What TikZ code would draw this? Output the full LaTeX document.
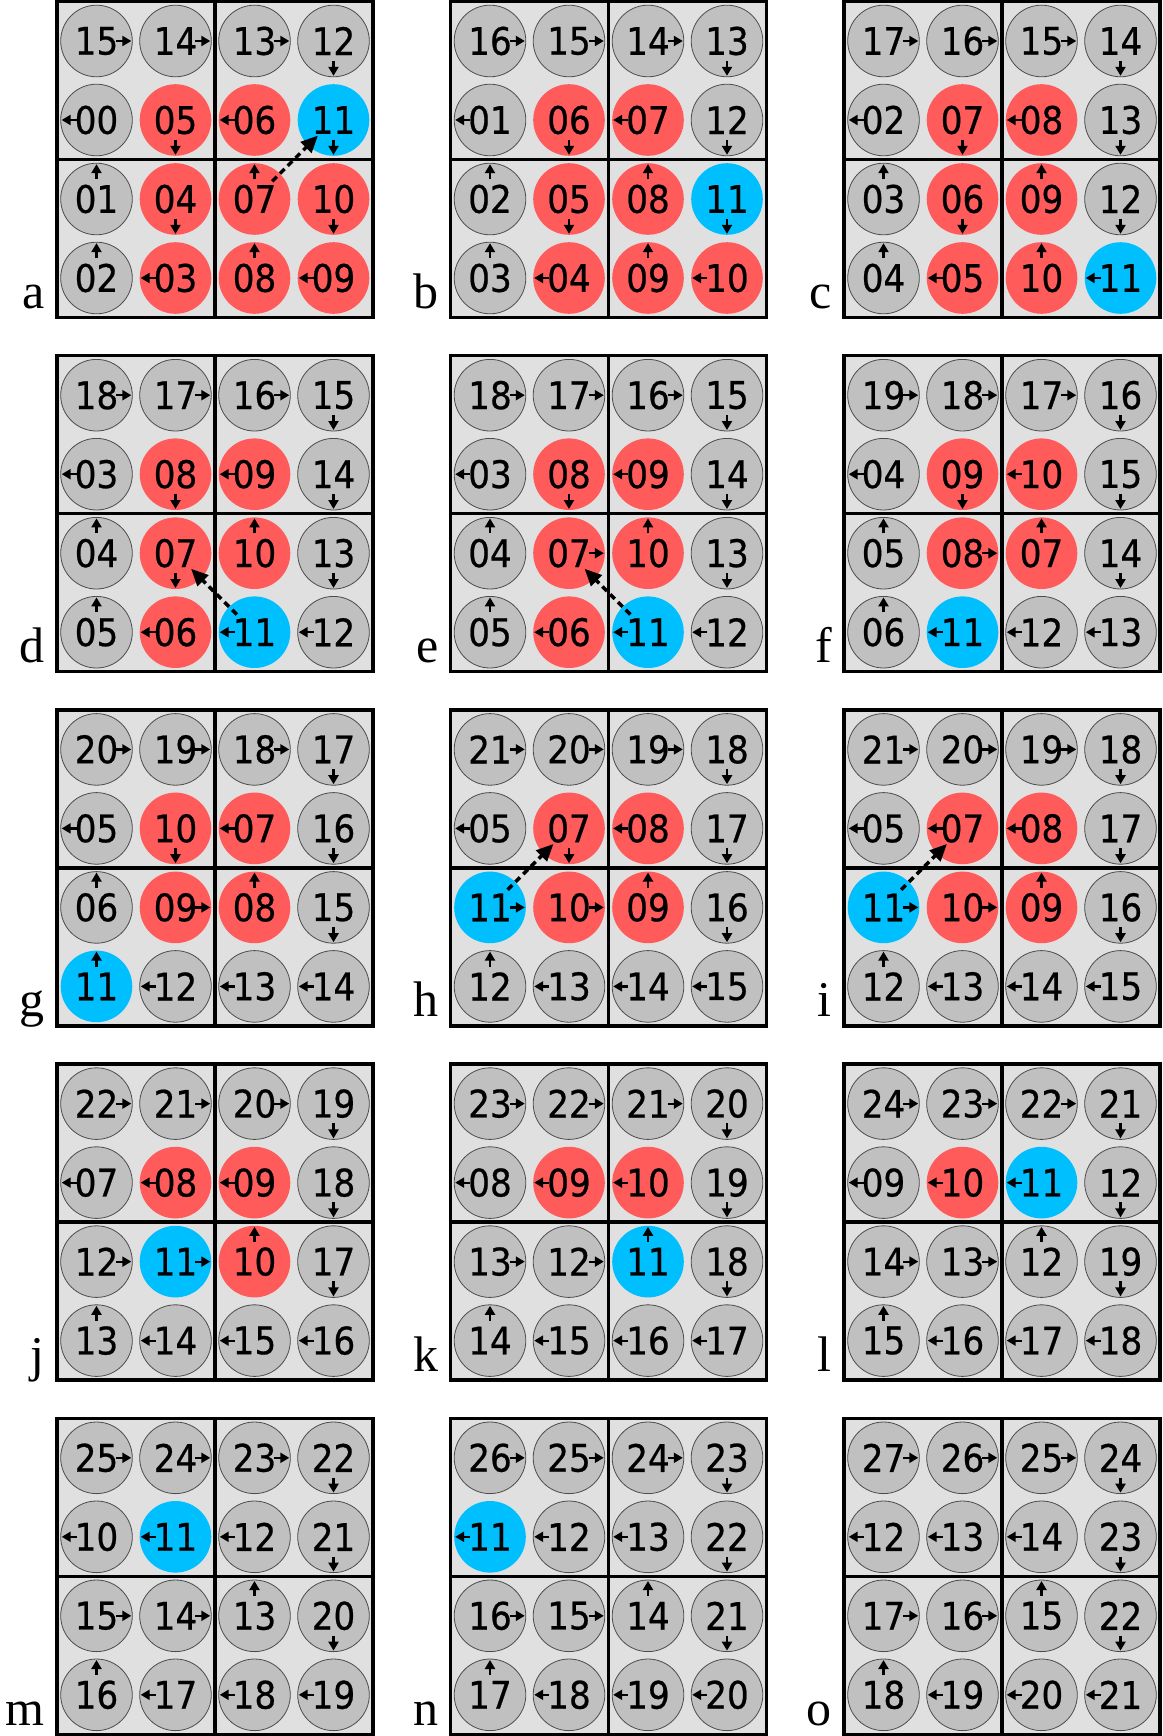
\documentclass[tikz,border=0pt]{standalone}
\usepackage{fontspec}
\setmainfont{Liberation Serif}
\newfontfamily\numfont[FakeBold=0.6]{DejaVu Sans Condensed}
\usetikzlibrary{arrows.meta,calc}
\definecolor{bgc}{HTML}{E0E0E0}
\definecolor{cgray}{HTML}{C0C0C0}
\definecolor{cred}{HTML}{FF5B5B}
\definecolor{ccyan}{HTML}{00BFFF}
\tikzset{
 circ/.style={circle,inner sep=0pt,outer sep=0pt,minimum size=71.6pt,
   font=\numfont\fontsize{38}{38}\selectfont,text=black},
 cg/.style={fill=cgray,draw=black!70,line width=0.8pt},
 cr/.style={fill=cred},
 cb/.style={fill=ccyan},
 smallarr/.style={-{Triangle[length=9pt,width=10pt]},line width=2.2pt,black},
 dasharr/.style={-{Triangle[length=17pt,width=15pt]},line width=3.5pt,black,dash pattern=on 6.5pt off 4.5pt},
 frame/.style={line width=3.5pt,black},
 lbl/.style={font=\fontsize{50}{50}\selectfont,inner sep=0pt,anchor=base east},
}
\newcommand\arrR[1]{\draw[smallarr] ([xshift=-16pt]#1.east) -- ([xshift=-1pt]#1.east);}
\newcommand\arrL[1]{\draw[smallarr] ([xshift=16pt]#1.west) -- ([xshift=1pt]#1.west);}
\newcommand\arrU[1]{\draw[smallarr] ([yshift=-16pt]#1.north) -- ([yshift=-1pt]#1.north);}
\newcommand\arrD[1]{\draw[smallarr] ([yshift=16pt]#1.south) -- ([yshift=1pt]#1.south);}
\newcommand\drawpanel[4]{%
 \pgfmathsetmacro\px{57+393.5*#2}%
 \pgfmathsetmacro\py{1.5+354.2*#3}%
 \fill[bgc] (\px,\py) rectangle ++(316,316);
 \foreach \lab/\cl/\dr [count=\k from 0] in {#4} {
   \pgfmathtruncatemacro\ci{mod(\k,4)}
   \pgfmathtruncatemacro\cj{div(\k,4)}
   \node[circ,\cl] (#1-\k) at (\px+39.5+79*\ci, \py+39.5+79*\cj) {\lab};
   \csname arr\dr\endcsname{#1-\k}
 }
 \draw[frame] (\px,\py) rectangle ++(316,316);
 \draw[frame] (\px+158,\py) -- ++(0,316);
 \draw[frame] (\px,\py+158) -- ++(316,0);
 \node[lbl] (#1-lab) at (\px-12,\py+307) {#1};
}
\begin{document}
\begin{tikzpicture}[x=1pt,y=-1pt]
\useasboundingbox (0,0) rectangle (1162,1736);
\drawpanel{a}{0}{0}{15/cg/R,14/cg/R,13/cg/R,12/cg/D, 00/cg/L,05/cr/D,06/cr/L,11/cb/D, 01/cg/U,04/cr/D,07/cr/U,10/cr/D, 02/cg/U,03/cr/L,08/cr/U,09/cr/L}
\drawpanel{b}{1}{0}{16/cg/R,15/cg/R,14/cg/R,13/cg/D, 01/cg/L,06/cr/D,07/cr/L,12/cg/D, 02/cg/U,05/cr/D,08/cr/U,11/cb/D, 03/cg/U,04/cr/L,09/cr/U,10/cr/L}
\drawpanel{c}{2}{0}{17/cg/R,16/cg/R,15/cg/R,14/cg/D, 02/cg/L,07/cr/D,08/cr/L,13/cg/D, 03/cg/U,06/cr/D,09/cr/U,12/cg/D, 04/cg/U,05/cr/L,10/cr/U,11/cb/L}
\drawpanel{d}{0}{1}{18/cg/R,17/cg/R,16/cg/R,15/cg/D, 03/cg/L,08/cr/D,09/cr/L,14/cg/D, 04/cg/U,07/cr/D,10/cr/U,13/cg/D, 05/cg/U,06/cr/L,11/cb/L,12/cg/L}
\drawpanel{e}{1}{1}{18/cg/R,17/cg/R,16/cg/R,15/cg/D, 03/cg/L,08/cr/D,09/cr/L,14/cg/D, 04/cg/U,07/cr/R,10/cr/U,13/cg/D, 05/cg/U,06/cr/L,11/cb/L,12/cg/L}
\drawpanel{f}{2}{1}{19/cg/R,18/cg/R,17/cg/R,16/cg/D, 04/cg/L,09/cr/D,10/cr/L,15/cg/D, 05/cg/U,08/cr/R,07/cr/U,14/cg/D, 06/cg/U,11/cb/L,12/cg/L,13/cg/L}
\drawpanel{g}{0}{2}{20/cg/R,19/cg/R,18/cg/R,17/cg/D, 05/cg/L,10/cr/D,07/cr/L,16/cg/D, 06/cg/U,09/cr/R,08/cr/U,15/cg/D, 11/cb/U,12/cg/L,13/cg/L,14/cg/L}
\drawpanel{h}{1}{2}{21/cg/R,20/cg/R,19/cg/R,18/cg/D, 05/cg/L,07/cr/D,08/cr/L,17/cg/D, 11/cb/R,10/cr/R,09/cr/U,16/cg/D, 12/cg/U,13/cg/L,14/cg/L,15/cg/L}
\drawpanel{i}{2}{2}{21/cg/R,20/cg/R,19/cg/R,18/cg/D, 05/cg/L,07/cr/L,08/cr/L,17/cg/D, 11/cb/R,10/cr/R,09/cr/U,16/cg/D, 12/cg/U,13/cg/L,14/cg/L,15/cg/L}
\drawpanel{j}{0}{3}{22/cg/R,21/cg/R,20/cg/R,19/cg/D, 07/cg/L,08/cr/L,09/cr/L,18/cg/D, 12/cg/R,11/cb/R,10/cr/U,17/cg/D, 13/cg/U,14/cg/L,15/cg/L,16/cg/L}
\drawpanel{k}{1}{3}{23/cg/R,22/cg/R,21/cg/R,20/cg/D, 08/cg/L,09/cr/L,10/cr/L,19/cg/D, 13/cg/R,12/cg/R,11/cb/U,18/cg/D, 14/cg/U,15/cg/L,16/cg/L,17/cg/L}
\drawpanel{l}{2}{3}{24/cg/R,23/cg/R,22/cg/R,21/cg/D, 09/cg/L,10/cr/L,11/cb/L,12/cg/D, 14/cg/R,13/cg/R,12/cg/U,19/cg/D, 15/cg/U,16/cg/L,17/cg/L,18/cg/L}
\drawpanel{m}{0}{4}{25/cg/R,24/cg/R,23/cg/R,22/cg/D, 10/cg/L,11/cb/L,12/cg/L,21/cg/D, 15/cg/R,14/cg/R,13/cg/U,20/cg/D, 16/cg/U,17/cg/L,18/cg/L,19/cg/L}
\drawpanel{n}{1}{4}{26/cg/R,25/cg/R,24/cg/R,23/cg/D, 11/cb/L,12/cg/L,13/cg/L,22/cg/D, 16/cg/R,15/cg/R,14/cg/U,21/cg/D, 17/cg/U,18/cg/L,19/cg/L,20/cg/L}
\drawpanel{o}{2}{4}{27/cg/R,26/cg/R,25/cg/R,24/cg/D, 12/cg/L,13/cg/L,14/cg/L,23/cg/D, 17/cg/R,16/cg/R,15/cg/U,22/cg/D, 18/cg/U,19/cg/L,20/cg/L,21/cg/L}
% dashed jump arrows
\draw[dasharr] ($(a-10)!25pt!(a-7)$) -- ($(a-7)!22pt!(a-10)$);
\draw[dasharr] ($(d-14)!25pt!(d-9)$) -- ($(d-9)!22pt!(d-14)$);
\draw[dasharr] ($(e-14)!25pt!(e-9)$) -- ($(e-9)!22pt!(e-14)$);
\draw[dasharr] ($(h-8)!25pt!(h-5)$) -- ($(h-5)!22pt!(h-8)$);
\draw[dasharr] ($(i-8)!25pt!(i-5)$) -- ($(i-5)!22pt!(i-8)$);
\end{tikzpicture}
\end{document}
